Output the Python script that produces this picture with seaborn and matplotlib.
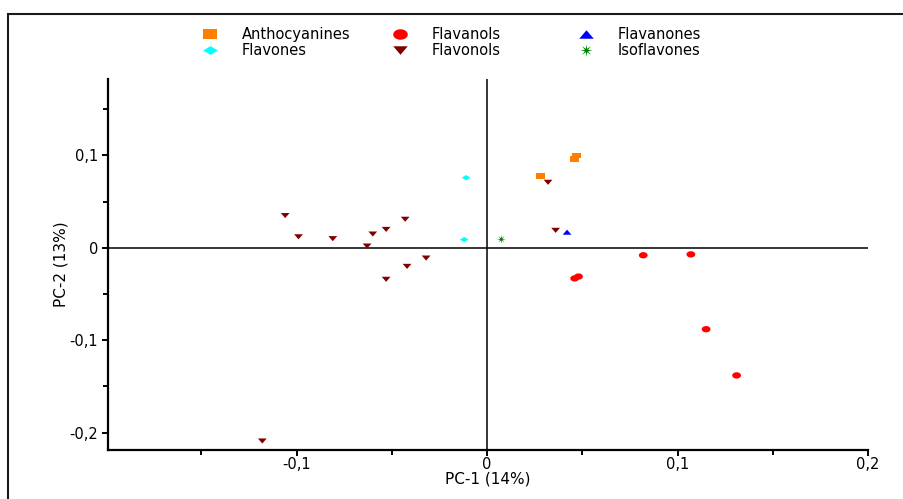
import numpy as np
import pandas as pd
import matplotlib
matplotlib.use("Agg")
import matplotlib.pyplot as plt
from matplotlib.lines import Line2D
from matplotlib.patches import Rectangle
import seaborn as sns

# PCA scores (PC-1, PC-2) per flavonoid class
anthocyanines_x = [0.028, 0.046, 0.047]
anthocyanines_y = [0.078, 0.096, 0.100]
flavanols_x = [0.046, 0.048, 0.082, 0.107, 0.115, 0.131]
flavanols_y = [-0.033, -0.031, -0.008, -0.007, -0.088, -0.138]
flavanones_x = [0.042]
flavanones_y = [0.017]
flavones_x = [-0.011, -0.012]
flavones_y = [0.076, 0.009]
flavonols_x = [-0.118, -0.106, -0.099, -0.081, -0.063, -0.060, -0.053,
               -0.053, -0.043, -0.042, -0.032, 0.032, 0.036]
flavonols_y = [-0.209, 0.035, 0.012, 0.010, 0.002, 0.015, 0.020,
               -0.034, 0.031, -0.020, -0.011, 0.071, 0.019]
isoflavones_x = [0.0075]
isoflavones_y = [0.0093]

classes = ["Anthocyanines", "Flavanols", "Flavanones",
           "Flavones", "Flavonols", "Isoflavones"]
class_x = [anthocyanines_x, flavanols_x, flavanones_x,
           flavones_x, flavonols_x, isoflavones_x]
class_y = [anthocyanines_y, flavanols_y, flavanones_y,
           flavones_y, flavonols_y, isoflavones_y]

x_ticks = [-0.1, 0.0, 0.1, 0.2]
x_tick_labels = ["-0,1", "0", "0,1", "0,2"]
y_ticks = [-0.2, -0.1, 0.0, 0.1]
y_tick_labels = ["-0,2", "-0,1", "0", "0,1"]

df = pd.DataFrame({
    "PC1": np.concatenate(class_x),
    "PC2": np.concatenate(class_y),
    "Class": np.concatenate([[c] * len(v) for c, v in zip(classes, class_x)]),
})

colors = {
    "Anthocyanines": "#FF8000",
    "Flavanols": "#FF0000",
    "Flavanones": "#0000FF",
    "Flavones": "#00FFFF",
    "Flavonols": "#800000",
    "Isoflavones": "#008000",
}

# flattened marker outlines
t = np.linspace(0, 2 * np.pi, 41)[:-1]
ellipse = list(zip(np.cos(t), 0.72 * np.sin(t)))
k = np.arange(16)
r = np.where(k % 2 == 0, 1.0, 0.28)
a = k * np.pi / 8
star = list(zip(r * np.cos(a), r * np.sin(a)))
shapes = {
    "Anthocyanines": [(-1, -0.68), (1, -0.68), (1, 0.68), (-1, 0.68)],
    "Flavanols": ellipse,
    "Flavanones": [(-1, -0.58), (1, -0.58), (0, 0.58)],
    "Flavones": [(-1, 0), (0, 0.6), (1, 0), (0, -0.6)],
    "Flavonols": [(-1, 0.58), (1, 0.58), (0, -0.58)],
    "Isoflavones": star,
}

sns.set_style("ticks")
plt.rcParams["font.family"] = ["DejaVu Sans"]
plt.rcParams["text.color"] = "black"
plt.rcParams["axes.labelcolor"] = "black"

fig = plt.figure(figsize=(9.04, 4.99), dpi=100)
ax = fig.add_axes([0.1195, 0.0988, 0.8407, 0.7429])

ax.axhline(0, color="black", lw=1.1, zorder=1)
ax.axvline(0, color="black", lw=1.1, zorder=1)

sns.scatterplot(data=df, x="PC1", y="PC2", hue="Class", style="Class",
                palette=colors, markers=shapes, s=40, linewidth=0,
                legend=False, ax=ax, zorder=3)

ax.set_xlim(-0.199, 0.2)
ax.set_ylim(-0.2184, 0.1828)
ax.set_xticks(x_ticks)
ax.set_xticklabels(x_tick_labels)
ax.set_yticks(y_ticks)
ax.set_yticklabels(y_tick_labels)
ax.set_xticks([-0.15, -0.05, 0.05, 0.15], minor=True)
ax.set_yticks([-0.15, -0.05, 0.05, 0.15], minor=True)
ax.tick_params(axis="both", which="major", length=4, width=1.4,
               labelsize=10.5, color="black", labelcolor="black")
ax.tick_params(axis="both", which="minor", length=3.5, width=1.4, color="black")
ax.tick_params(axis="x", which="major", pad=1)
ax.tick_params(axis="y", which="major", pad=3)

sns.despine(ax=ax)
for side in ("left", "bottom"):
    ax.spines[side].set_linewidth(1.6)
    ax.spines[side].set_color("black")

ax.set_xlabel("PC-1 (14%)", fontsize=11)
ax.set_ylabel("PC-2 (13%)", fontsize=11)
ax.xaxis.set_label_coords(0.5, -0.06)
ax.yaxis.set_label_coords(-0.052, 0.5)

# legend laid out as three columns of two entries
legend_sizes = {"Anthocyanines": 10.5, "Flavanols": 10.5, "Flavanones": 10.5,
                "Flavones": 10.5, "Flavonols": 10.5, "Isoflavones": 9}
columns = [("Anthocyanines", "Flavones"), ("Flavanols", "Flavonols"),
           ("Flavanones", "Isoflavones")]
col_left_px = [199, 389, 575]
for names, left in zip(columns, col_left_px):
    handles = [Line2D([], [], linestyle="none", marker=shapes[n],
                      markersize=legend_sizes[n], markerfacecolor=colors[n],
                      markeredgewidth=0) for n in names]
    fig.legend(handles, names, loc="center left",
               bbox_to_anchor=(left / 904, 1 - 42.6 / 499),
               frameon=False, borderpad=0, borderaxespad=0,
               handlelength=1.5, handletextpad=1.45,
               labelspacing=0.05, fontsize=10.5, labelcolor="black")

# outer frame
fig.add_artist(Rectangle((8 / 904, -0.2), 1.5, 1.2 - 14 / 499,
                         transform=fig.transFigure, fill=False,
                         edgecolor="#1a1a1a", lw=1.5, clip_on=False))

fig.savefig("out.png", dpi=100)
